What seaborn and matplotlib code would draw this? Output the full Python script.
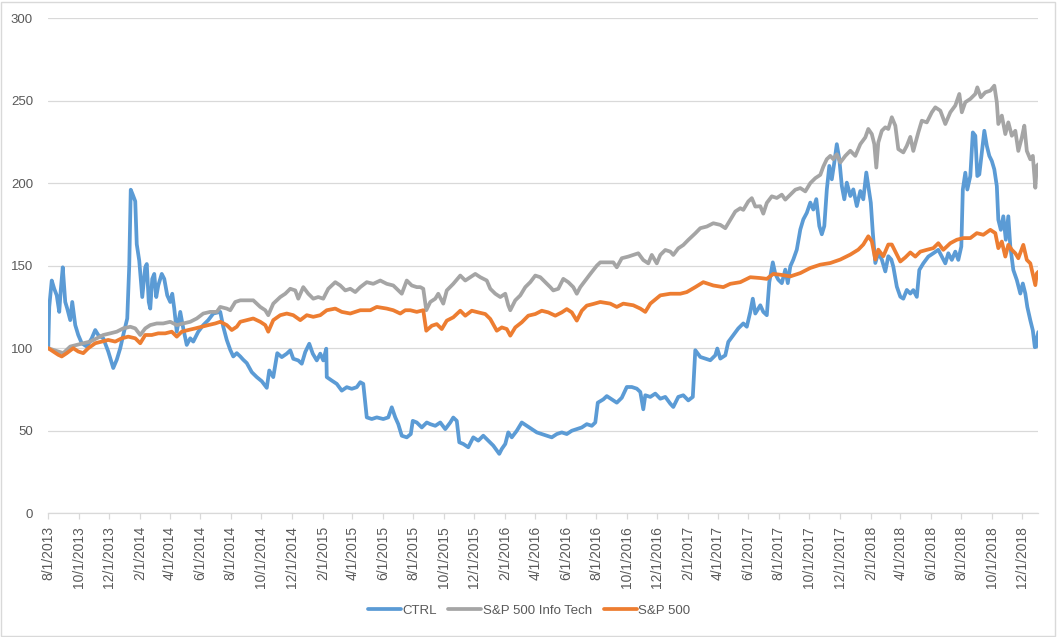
import matplotlib
matplotlib.use("Agg")
import matplotlib.pyplot as plt
from matplotlib.patches import Rectangle
import pandas as pd
import seaborn as sns

ctrl_dates = [
    "2013-08-01", "2013-08-03", "2013-08-08", "2013-08-13", "2013-08-18", "2013-08-23", "2013-08-26", "2013-08-30",
    "2013-09-04", "2013-09-08", "2013-09-14", "2013-09-18", "2013-09-24", "2013-09-30", "2013-10-07", "2013-10-17",
    "2013-10-27", "2013-11-03", "2013-11-09", "2013-11-19", "2013-11-29", "2013-12-09", "2013-12-16", "2013-12-23",
    "2013-12-29", "2014-01-06", "2014-01-10", "2014-01-13", "2014-01-17", "2014-01-22", "2014-01-25", "2014-01-30",
    "2014-02-03", "2014-02-05", "2014-02-11", "2014-02-14", "2014-02-18", "2014-02-21", "2014-02-25", "2014-03-01",
    "2014-03-05", "2014-03-09", "2014-03-16", "2014-03-21", "2014-03-27", "2014-04-02", "2014-04-06", "2014-04-10",
    "2014-04-15", "2014-04-22", "2014-04-28", "2014-05-05", "2014-05-12", "2014-05-18", "2014-05-28", "2014-06-07",
    "2014-06-17", "2014-06-27", "2014-07-11", "2014-07-17", "2014-07-24", "2014-07-31", "2014-08-06", "2014-08-13",
    "2014-08-20", "2014-08-26", "2014-09-02", "2014-09-12", "2014-09-22", "2014-10-02", "2014-10-12", "2014-10-17",
    "2014-10-25", "2014-11-02", "2014-11-11", "2014-11-21", "2014-11-28", "2014-12-04", "2014-12-14", "2014-12-21",
    "2014-12-28", "2015-01-05", "2015-01-12", "2015-01-20", "2015-01-27", "2015-02-02", "2015-02-08", "2015-02-09",
    "2015-02-19", "2015-03-01", "2015-03-11", "2015-03-21", "2015-03-31", "2015-04-10", "2015-04-17", "2015-04-23",
    "2015-04-30", "2015-05-10", "2015-05-20", "2015-06-02", "2015-06-12", "2015-06-19", "2015-06-26", "2015-07-02",
    "2015-07-09", "2015-07-19", "2015-07-27", "2015-07-31", "2015-08-08", "2015-08-18", "2015-08-28", "2015-09-04",
    "2015-09-14", "2015-09-24", "2015-10-04", "2015-10-14", "2015-10-20", "2015-10-27", "2015-11-01", "2015-11-09",
    "2015-11-19", "2015-11-29", "2015-12-09", "2015-12-19", "2015-12-29", "2016-01-08", "2016-01-20", "2016-01-25",
    "2016-02-01", "2016-02-07", "2016-02-14", "2016-02-24", "2016-03-05", "2016-03-15", "2016-03-25", "2016-04-04",
    "2016-04-14", "2016-04-24", "2016-05-04", "2016-05-14", "2016-05-24", "2016-06-03", "2016-06-13", "2016-06-23",
    "2016-07-03", "2016-07-13", "2016-07-23", "2016-07-30", "2016-08-04", "2016-08-15", "2016-08-22", "2016-09-01",
    "2016-09-11", "2016-09-21", "2016-10-01", "2016-10-11", "2016-10-21", "2016-10-28", "2016-11-03", "2016-11-07",
    "2016-11-17", "2016-11-27", "2016-12-07", "2016-12-17", "2016-12-27", "2017-01-02", "2017-01-12", "2017-01-22",
    "2017-02-01", "2017-02-10", "2017-02-15", "2017-02-25", "2017-03-07", "2017-03-17", "2017-03-27", "2017-03-31",
    "2017-04-06", "2017-04-16", "2017-04-22", "2017-05-02", "2017-05-12", "2017-05-22", "2017-05-29", "2017-06-05",
    "2017-06-10", "2017-06-15", "2017-06-25", "2017-07-01", "2017-07-08", "2017-07-13", "2017-07-20", "2017-07-25",
    "2017-07-31", "2017-08-07", "2017-08-14", "2017-08-19", "2017-08-24", "2017-08-30", "2017-09-06", "2017-09-13",
    "2017-09-19", "2017-09-26", "2017-10-03", "2017-10-09", "2017-10-15", "2017-10-21", "2017-10-26", "2017-10-31",
    "2017-11-05", "2017-11-10", "2017-11-15", "2017-11-20", "2017-11-25", "2017-11-30", "2017-12-05", "2017-12-10",
    "2017-12-15", "2017-12-22", "2017-12-28", "2018-01-04", "2018-01-11", "2018-01-17", "2018-01-23", "2018-01-27",
    "2018-02-01", "2018-02-05", "2018-02-10", "2018-02-16", "2018-02-23", "2018-03-02", "2018-03-08", "2018-03-14",
    "2018-03-18", "2018-03-25", "2018-04-01", "2018-04-07", "2018-04-14", "2018-04-21", "2018-04-27", "2018-05-04",
    "2018-05-09", "2018-05-17", "2018-05-27", "2018-06-06", "2018-06-16", "2018-06-23", "2018-06-30", "2018-07-06",
    "2018-07-13", "2018-07-20", "2018-07-26", "2018-08-01", "2018-08-04", "2018-08-09", "2018-08-13", "2018-08-19",
    "2018-08-24", "2018-08-29", "2018-09-02", "2018-09-06", "2018-09-11", "2018-09-16", "2018-09-21", "2018-09-26",
    "2018-10-01", "2018-10-06", "2018-10-11", "2018-10-14", "2018-10-19", "2018-10-24", "2018-10-29", "2018-11-03",
    "2018-11-07", "2018-11-13", "2018-11-20", "2018-11-27", "2018-12-02", "2018-12-07", "2018-12-11", "2018-12-17",
    "2018-12-22", "2018-12-26", "2018-12-29", "2018-12-31", "2019-01-02",
]
ctrl_values = [
    100, 125, 141, 136, 132, 122, 135, 149,
    128, 124, 117, 128, 114, 108, 103, 101,
    106, 111, 108, 106, 98, 88, 93, 100,
    108, 118, 150, 196, 193, 189, 163, 153,
    138, 131, 149, 151, 128, 124, 142, 145,
    131, 138, 145, 142, 132, 128, 133, 124,
    110, 122, 112, 102, 106, 104, 110, 114,
    117, 121, 122, 113, 105, 99, 95, 97,
    95, 93, 91, 85.5, 82.5, 80, 76, 86.5,
    82.5, 97, 94.6, 96.7, 98.7, 93.6, 92.6, 90.6,
    97.7, 102.7, 96.7, 92.6, 96.7, 92.6, 99.7, 82.5,
    80.4, 78.4, 74.3, 76.4, 75.4, 76.4, 79.4, 78.4,
    58.1, 57.1, 58.1, 57.1, 58.1, 64.2, 58.1, 54,
    47, 46, 48, 56, 55, 52, 55, 54,
    53, 55, 51, 55, 58, 56, 43, 42,
    40, 46, 44, 47, 44, 41, 36, 39,
    42, 49, 46, 50, 55, 53, 51, 49,
    48, 47, 46, 48, 49, 48, 50, 51,
    52, 54, 53, 55, 67, 69, 71, 69,
    67, 70, 76.5, 76.5, 75.5, 73.5, 63, 71.5,
    70.5, 72.5, 69.4, 70.5, 66.4, 64.4, 70.5, 71.5,
    68.4, 70.5, 98.8, 94.7, 93.7, 92.7, 95.7, 99.8,
    93.7, 95.7, 103.8, 107.9, 112, 115, 113, 122,
    130, 121, 126, 122, 120, 140, 152, 145,
    141.5, 139.4, 147.6, 139.4, 149.6, 153.7, 159.7, 171.9,
    178, 182, 188.2, 184, 190.3, 174, 169, 174,
    196, 210.4, 202.3, 212.5, 223.6, 214.5, 198.3, 190.2,
    200.3, 192.2, 196.2, 186.1, 195.2, 190.2, 206.4, 198.3,
    188.1, 170, 151.6, 157.7, 153.7, 146.5, 155.7, 153.7,
    149.4, 137.3, 131.2, 130, 135.3, 133.1, 135.2, 131.1,
    147.4, 151.4, 155.5, 157.5, 159.6, 155.5, 151.4, 157.5,
    153.5, 158.5, 153.5, 161.6, 196.1, 206.3, 196.1, 204.3,
    230.7, 228.7, 204.3, 205.3, 218.5, 231.7, 222.6, 216.5,
    213.4, 208.3, 198.2, 177.8, 171.7, 179.9, 165.7, 179.9,
    161.6, 147.4, 141.3, 133.1, 139.2, 133.1, 125, 116.9,
    110.8, 100.6, 101, 107, 109.8,
]

tech_dates = [
    "2013-08-01", "2013-08-11", "2013-08-21", "2013-08-31", "2013-09-14", "2013-09-27", "2013-10-10", "2013-10-24",
    "2013-11-06", "2013-11-19", "2013-12-03", "2013-12-16", "2013-12-29", "2014-01-12", "2014-01-22", "2014-02-01",
    "2014-02-11", "2014-02-21", "2014-03-06", "2014-03-19", "2014-04-02", "2014-04-15", "2014-04-28", "2014-05-12",
    "2014-05-25", "2014-06-07", "2014-06-21", "2014-07-04", "2014-07-11", "2014-07-24", "2014-07-31", "2014-08-10",
    "2014-08-20", "2014-09-02", "2014-09-15", "2014-09-29", "2014-10-09", "2014-10-15", "2014-10-25", "2014-11-08",
    "2014-11-18", "2014-11-28", "2014-12-08", "2014-12-14", "2014-12-24", "2015-01-03", "2015-01-13", "2015-01-23",
    "2015-02-02", "2015-02-12", "2015-02-26", "2015-03-08", "2015-03-18", "2015-03-28", "2015-04-07", "2015-04-17",
    "2015-04-30", "2015-05-13", "2015-05-27", "2015-06-09", "2015-06-22", "2015-07-09", "2015-07-19", "2015-07-29",
    "2015-08-08", "2015-08-15", "2015-08-21", "2015-08-27", "2015-09-04", "2015-09-14", "2015-09-20", "2015-09-30",
    "2015-10-07", "2015-10-20", "2015-11-03", "2015-11-13", "2015-11-23", "2015-12-03", "2015-12-13", "2015-12-26",
    "2016-01-02", "2016-01-12", "2016-01-22", "2016-02-01", "2016-02-07", "2016-02-11", "2016-02-21", "2016-03-02",
    "2016-03-12", "2016-03-22", "2016-04-01", "2016-04-11", "2016-04-21", "2016-05-01", "2016-05-07", "2016-05-17",
    "2016-05-27", "2016-06-06", "2016-06-16", "2016-06-23", "2016-06-30", "2016-07-10", "2016-07-20", "2016-08-02",
    "2016-08-09", "2016-08-22", "2016-09-04", "2016-09-11", "2016-09-21", "2016-10-04", "2016-10-14", "2016-10-24",
    "2016-11-03", "2016-11-13", "2016-11-20", "2016-11-30", "2016-12-07", "2016-12-17", "2016-12-27", "2017-01-02",
    "2017-01-12", "2017-01-22", "2017-02-01", "2017-02-15", "2017-02-25", "2017-03-10", "2017-03-23", "2017-04-06",
    "2017-04-16", "2017-04-26", "2017-05-06", "2017-05-16", "2017-05-22", "2017-06-01", "2017-06-08", "2017-06-15",
    "2017-06-25", "2017-07-01", "2017-07-08", "2017-07-18", "2017-07-28", "2017-08-07", "2017-08-14", "2017-08-24",
    "2017-09-03", "2017-09-13", "2017-09-23", "2017-10-03", "2017-10-13", "2017-10-23", "2017-10-29", "2017-11-05",
    "2017-11-12", "2017-11-18", "2017-11-25", "2017-12-02", "2017-12-12", "2017-12-22", "2018-01-01", "2018-01-11",
    "2018-01-21", "2018-01-27", "2018-02-03", "2018-02-08", "2018-02-12", "2018-02-16", "2018-02-23", "2018-03-02",
    "2018-03-08", "2018-03-15", "2018-03-22", "2018-03-28", "2018-04-07", "2018-04-14", "2018-04-21", "2018-04-27",
    "2018-05-07", "2018-05-14", "2018-05-24", "2018-06-03", "2018-06-10", "2018-06-20", "2018-06-30", "2018-07-10",
    "2018-07-20", "2018-07-28", "2018-08-02", "2018-08-09", "2018-08-19", "2018-08-29", "2018-09-02", "2018-09-09",
    "2018-09-18", "2018-09-28", "2018-10-06", "2018-10-11", "2018-10-14", "2018-10-21", "2018-10-28", "2018-11-03",
    "2018-11-10", "2018-11-17", "2018-11-23", "2018-11-30", "2018-12-05", "2018-12-10", "2018-12-17", "2018-12-22",
    "2018-12-27", "2018-12-30", "2019-01-02",
]
tech_values = [
    100, 99, 98, 97, 101, 102, 103, 104,
    106, 108, 109, 110, 112, 113, 112, 108,
    112, 114, 115, 115, 116, 114, 115, 116,
    118, 121, 122, 122, 125, 124, 123, 128,
    129, 129, 129, 125, 123, 120, 127, 131,
    133, 136, 135, 130, 137, 133, 130, 131,
    130, 136, 140, 138, 135, 136, 134, 137,
    140, 139, 141, 139, 138, 133, 141, 138,
    137, 137, 136, 123, 128, 130, 133, 127,
    135, 139, 144, 141, 143, 145, 143, 141,
    136, 133, 131, 133, 126, 123, 129, 132,
    137, 140, 144, 143, 140, 137, 135, 136,
    142, 140, 137, 133, 137, 141, 145, 150,
    152, 152, 152, 149, 154.5, 155.5, 156.5, 157.5,
    153.4, 151.4, 156.5, 151.4, 156.5, 159.5, 158.5, 156.5,
    160.5, 162.5, 165.6, 169.6, 172.7, 173.7, 175.7, 174.7,
    172.7, 177.7, 182.8, 184.8, 183.8, 188.9, 190.9, 185.8,
    186, 181.5, 188, 192, 191, 193, 190, 193,
    196, 197, 195, 200, 203, 205, 210, 214.5,
    216.5, 214.5, 217.5, 212.5, 216.5, 219.6, 216.5, 223.6,
    227.7, 232.8, 229.7, 223.6, 209.4, 224.6, 231.7, 233.8,
    232.8, 239.9, 234.8, 220.6, 218.6, 222.6, 228, 219.5,
    230.7, 237.8, 236.8, 242.9, 245.9, 243.9, 235.8, 242.9,
    247, 254, 242.9, 249, 251, 254, 258, 252,
    255, 256, 259, 249, 235.8, 240.9, 229.7, 236.8,
    228.7, 231.7, 219.5, 227.6, 234.8, 219.5, 214.4, 216.5,
    197.2, 210.4, 211.4,
]

spx_dates = [
    "2013-08-01", "2013-08-11", "2013-08-21", "2013-08-28", "2013-09-07", "2013-09-20", "2013-09-30", "2013-10-10",
    "2013-10-20", "2013-11-03", "2013-11-16", "2013-11-29", "2013-12-13", "2013-12-26", "2014-01-08", "2014-01-22",
    "2014-02-01", "2014-02-11", "2014-02-24", "2014-03-09", "2014-03-23", "2014-04-05", "2014-04-15", "2014-04-25",
    "2014-05-08", "2014-05-22", "2014-06-04", "2014-06-17", "2014-07-01", "2014-07-11", "2014-07-24", "2014-08-03",
    "2014-08-13", "2014-08-20", "2014-09-02", "2014-09-15", "2014-09-29", "2014-10-09", "2014-10-15", "2014-10-25",
    "2014-11-08", "2014-11-21", "2014-12-04", "2014-12-18", "2014-12-31", "2015-01-13", "2015-01-27", "2015-02-09",
    "2015-02-26", "2015-03-11", "2015-03-28", "2015-04-17", "2015-05-07", "2015-05-20", "2015-06-09", "2015-06-22",
    "2015-07-06", "2015-07-16", "2015-07-26", "2015-08-08", "2015-08-21", "2015-08-27", "2015-09-07", "2015-09-17",
    "2015-09-27", "2015-10-07", "2015-10-20", "2015-11-03", "2015-11-13", "2015-11-26", "2015-12-09", "2015-12-23",
    "2016-01-02", "2016-01-15", "2016-01-25", "2016-02-04", "2016-02-11", "2016-02-21", "2016-03-05", "2016-03-18",
    "2016-04-01", "2016-04-14", "2016-04-27", "2016-05-11", "2016-05-24", "2016-06-03", "2016-06-13", "2016-06-23",
    "2016-07-03", "2016-07-13", "2016-07-26", "2016-08-09", "2016-08-29", "2016-09-11", "2016-09-24", "2016-10-14",
    "2016-10-28", "2016-11-07", "2016-11-17", "2016-12-07", "2016-12-27", "2017-01-16", "2017-01-29", "2017-02-15",
    "2017-03-03", "2017-03-23", "2017-04-12", "2017-04-26", "2017-05-16", "2017-06-05", "2017-06-25", "2017-07-08",
    "2017-07-21", "2017-08-04", "2017-08-24", "2017-09-13", "2017-10-03", "2017-10-23", "2017-11-12", "2017-12-02",
    "2017-12-22", "2018-01-07", "2018-01-17", "2018-01-27", "2018-02-03", "2018-02-10", "2018-02-16", "2018-02-26",
    "2018-03-08", "2018-03-15", "2018-03-22", "2018-04-01", "2018-04-11", "2018-04-21", "2018-05-01", "2018-05-11",
    "2018-05-24", "2018-06-06", "2018-06-16", "2018-06-26", "2018-07-10", "2018-07-23", "2018-08-05", "2018-08-19",
    "2018-09-01", "2018-09-14", "2018-09-28", "2018-10-08", "2018-10-14", "2018-10-21", "2018-10-28", "2018-11-03",
    "2018-11-10", "2018-11-17", "2018-11-23", "2018-12-03", "2018-12-10", "2018-12-17", "2018-12-27", "2018-12-30",
    "2019-01-02",
]
spx_values = [
    100, 98, 96, 95, 97, 100, 98, 97,
    100, 103, 104, 105, 104, 106, 107, 106,
    103, 108, 108, 109, 109, 110, 107, 110,
    111, 112, 113, 114, 115, 116, 114, 111,
    113, 116, 117, 118, 116, 114, 110, 117,
    120, 121, 120, 117, 120, 119, 120, 123,
    124, 122, 121, 123, 123, 125, 124, 123,
    121, 123, 123, 122, 123, 110.6, 113.6, 114.6,
    111.6, 116.7, 118.7, 122.7, 119.7, 122.7, 121.7, 120.7,
    117.7, 110.6, 112.6, 111.6, 107.6, 112.6, 115.7, 119.7,
    120.7, 122.7, 121.7, 119.7, 121.7, 123.7, 121.7, 116.7,
    122.7, 125.8, 126.8, 128, 127, 125, 127, 126,
    124, 122, 127, 132, 133, 133, 134, 137,
    140, 138, 137, 139, 140, 143, 142.5, 142,
    145, 144.5, 143.5, 145.5, 148.6, 150.6, 151.6, 153.7,
    156.7, 159.7, 162.8, 167.8, 164.8, 153.7, 159.7, 155.7,
    162.8, 162.8, 158.5, 152.5, 155, 158, 155.5, 158.5,
    159.6, 160.6, 163.6, 159.6, 163.6, 165.7, 166.7, 166.7,
    169.7, 168.7, 171.7, 169.7, 160.6, 164.6, 155.5, 162.6,
    159.6, 157.5, 154.5, 162.6, 153.5, 151.4, 138.2, 145.3,
    146.3,
]

series_names = ["CTRL", "S&P 500 Info Tech", "S&P 500"]
series_colors = ["#5B9BD5", "#A5A5A5", "#ED7D31"]
y_ticks = [0, 50, 100, 150, 200, 250, 300]
x_tick_dates = pd.date_range("2013-08-01", "2018-12-01", freq="2MS")
x_tick_labels = [f"{d.month}/{d.day}/{d.year}" for d in x_tick_dates]

sns.set_theme(style="white")
plt.rcParams["font.family"] = ["Liberation Sans", "DejaVu Sans"]
text_color = "#595959"
grid_color = "#D9D9D9"

fig = plt.figure(figsize=(10.58, 6.37), dpi=100)
ax = fig.add_axes([0.0456, 0.1942, 0.9358, 0.7775])

series = [
    (ctrl_dates, ctrl_values),
    (tech_dates, tech_values),
    (spx_dates, spx_values),
]
for (dates, values), name, color in zip(series, series_names, series_colors):
    df = pd.DataFrame({"date": pd.to_datetime(dates), "value": values})
    sns.lineplot(data=df, x="date", y="value", ax=ax, color=color, linewidth=2.7,
                 label=name, legend=False, solid_joinstyle="round", solid_capstyle="round")

ax.set_xlim(pd.Timestamp("2013-08-01"), pd.Timestamp("2019-01-02"))
ax.set_ylim(0, 300)
ax.set_yticks(y_ticks)
ax.set_xticks(x_tick_dates)
ax.set_xticklabels(x_tick_labels, rotation=90)
ax.set_xlabel("")
ax.set_ylabel("")

ax.yaxis.grid(True, color=grid_color, linewidth=0.9)
ax.xaxis.grid(False)
ax.set_axisbelow(True)
for side in ["left", "right", "top"]:
    ax.spines[side].set_visible(False)
ax.spines["bottom"].set_color(grid_color)
ax.spines["bottom"].set_linewidth(0.9)

ax.tick_params(axis="x", length=4, width=0.9, color=grid_color, labelcolor=text_color,
               labelsize=10, pad=5, bottom=True)
ax.tick_params(axis="y", length=0, labelcolor=text_color, labelsize=9.5, pad=11)

handles, labels = ax.get_legend_handles_labels()
fig.legend(handles, labels, loc="center", bbox_to_anchor=(0.5, 0.041), ncol=3, frameon=False,
           fontsize=9.5, handlelength=2.5, handletextpad=0.1, columnspacing=0.9,
           labelcolor=text_color)

fig.patches.append(Rectangle((0.001, 0.002), 0.996, 0.995, transform=fig.transFigure,
                             fill=False, edgecolor=grid_color, linewidth=1.0))

fig.savefig("out.png", dpi=100)
plt.close(fig)
